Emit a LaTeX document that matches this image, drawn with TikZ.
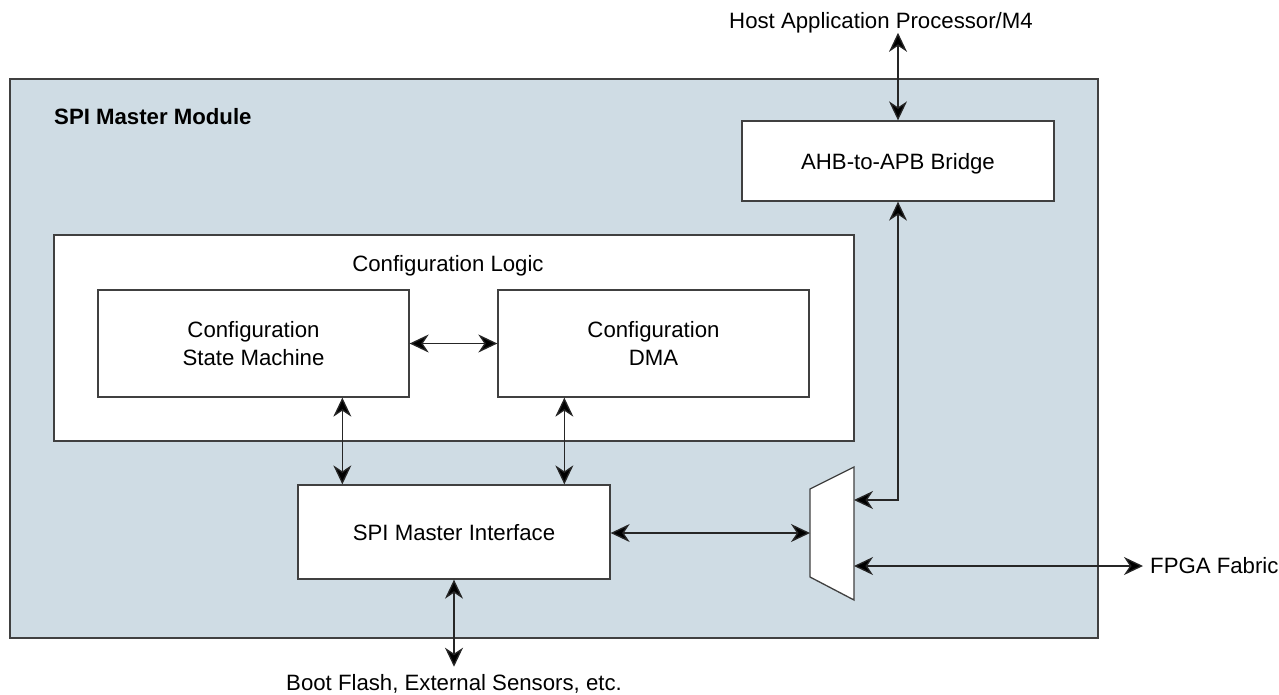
\documentclass[tikz,border=0pt]{standalone}
\usepackage{fontspec}
\setmainfont{Liberation Sans}
\usetikzlibrary{arrows.meta}
\definecolor{modfill}{RGB}{207,220,228}
\definecolor{edgegray}{RGB}{64,64,64}
\begin{document}
\begin{tikzpicture}[x=1pt,y=-1pt,
  txt/.style={font=\fontsize{22.2}{28}\selectfont, text=black},
  blk/.style={txt, draw=edgegray, line width=1.3pt, fill=white, align=center, inner sep=0pt},
  onel/.style={text height=16.2pt, text depth=0pt},
  conn/.style={draw=black!85, line width=1.3pt,
    {Stealth[length=19pt,width=18pt,inset=6pt,fill=black]}-{Stealth[length=19pt,width=18pt,inset=6pt,fill=black]}},
]
\useasboundingbox (0,0) rectangle (1279,694);

% outer module
\node[blk, fill=modfill, minimum width=1088pt, minimum height=559pt] (mod) at (554,358.5) {};
\node[txt, anchor=base west, inner sep=0pt] (title) at (54,124) {\bfseries SPI Master Module};

% blocks
\node[blk, onel, minimum width=312pt, minimum height=80pt] (ahb) at (898,161) {AHB-to-APB Bridge};
\node[blk, minimum width=800pt, minimum height=206pt] (cfg) at (454,338) {};
\node[txt, anchor=base, inner sep=0pt] (cfglbl) at (448,271) {Configuration Logic};
\node[blk, minimum width=311pt, minimum height=107pt] (sm) at (253.5,343.5) {Configuration\\State Machine};
\node[blk, minimum width=311pt, minimum height=107pt] (dma) at (653.5,343.5) {Configuration\\DMA};
\node[blk, onel, minimum width=312pt, minimum height=94pt] (spi) at (454,532) {SPI Master Interface};

% mux
\coordinate (mtl) at (810,489);
\coordinate (mtr) at (854,467);
\coordinate (mbr) at (854,600);
\coordinate (mbl) at (810,577);
\draw[draw=edgegray, line width=1.3pt, fill=white] (mtl) -- (mtr) -- (mbr) -- (mbl) -- cycle;
\coordinate (muxr1) at (854,500);
\coordinate (muxr2) at (854,566);
\coordinate (muxl) at (810,533);

% external labels
\node[txt, anchor=base, inner sep=0pt] (host) at (881,28) {Host Application Processor/M4};
\node[txt, anchor=base west, inner xsep=7pt, inner ysep=0pt] (fpga) at (1143,573) {FPGA Fabric};
\node[txt, anchor=base, inner xsep=0pt, inner ysep=7pt] (boot) at (454,690) {Boot Flash, External Sensors, etc.};

% connectors
\draw[conn] (ahb.north) -- (ahb.north |- host.south);
\draw[conn] (ahb.south) |- (muxr1);
\draw[conn] (sm.east) -- (dma.west);
\draw[conn] ([xshift=45pt]spi.north west) -- ([xshift=45pt]spi.north west |- sm.south);
\draw[conn] ([xshift=67pt]dma.south west) -- ([xshift=67pt]dma.south west |- spi.north);
\draw[conn] (spi.east |- muxl) -- (muxl);
\draw[conn] (muxr2) -- (muxr2 -| fpga.west);
\draw[conn] (spi.south) -- (boot.north);
\end{tikzpicture}
\end{document}
